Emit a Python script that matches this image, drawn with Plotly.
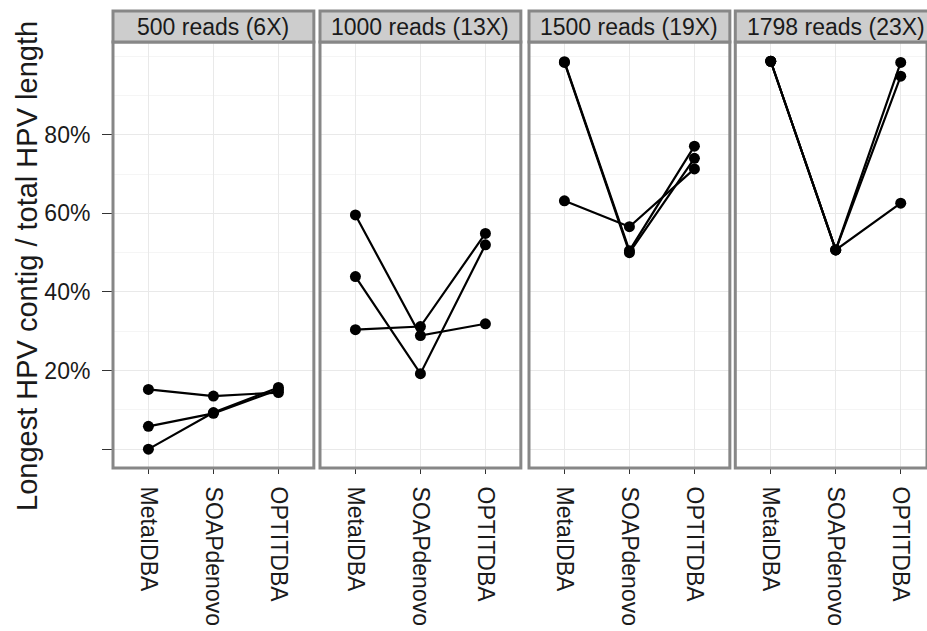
import plotly.graph_objects as go

# Assemblers compared on the x axis of every panel
methods = ["MetaIDBA", "SOAPdenovo", "OPTITDBA"]

# One panel per read depth
panel_titles = ["500 reads (6X)", "1000 reads (13X)", "1500 reads (19X)", "1798 reads (23X)"]

# Longest HPV contig as % of total HPV length, three replicate runs per depth
# (each inner list: MetaIDBA, SOAPdenovo, OPTITDBA)
runs_500 = [[15.2, 13.5, 14.4], [5.8, 9.1, 15.1], [0.0, 9.3, 15.7]]
runs_1000 = [[59.6, 28.9, 31.9], [43.9, 19.2, 52.0], [30.4, 31.2, 54.9]]
runs_1500 = [[98.6, 50.5, 77.1], [98.4, 50.0, 74.0], [63.2, 56.6, 71.3]]
runs_1798 = [[98.7, 50.7, 98.4], [98.7, 50.7, 94.9], [98.7, 50.7, 62.6]]
panel_runs = [runs_500, runs_1000, runs_1500, runs_1798]

# y axis ticks
y_tickvals = [0, 20, 40, 60, 80]
y_ticktext = ["", "20%", "40%", "60%", "80%"]
y_minor = [10, 30, 50, 70, 90, 100]

W, H = 927, 631
FONT = "Liberation Sans, Arial, sans-serif"
BORDER = "#878787"
STRIP_FILL = "#cdcdcd"
GRID = "#e9e9e9"
GRID_MINOR = "#f5f5f5"

# panel placement in pixels: left border, category spacing
panel_left = [113.0, 320.0, 529.0, 735.3]
cat_step = 65.0
cat_pad = 0.545
panel_top, panel_bottom = 42.0, 468.0
strip_top = 11.0
y_range = [-4.8, 103.6]

fig = go.Figure()

for i, runs in enumerate(panel_runs):
    ax = "" if i == 0 else str(i + 1)
    for vals in runs:
        fig.add_trace(go.Scatter(
            x=methods, y=vals, mode="lines+markers",
            xaxis="x" + ax, yaxis="y" + ax,
            line=dict(color="black", width=2.2),
            marker=dict(color="black", size=11),
            showlegend=False, hoverinfo="skip",
        ))

    left = panel_left[i]
    right = min(left + (2 + 2 * cat_pad) * cat_step, W)
    x_hi = -cat_pad + (right - left) / cat_step
    fig.layout["xaxis" + ax] = dict(
        domain=[left / W, right / W], anchor="y" + ax,
        type="category", categoryorder="array", categoryarray=methods,
        range=[-cat_pad, x_hi],
        showgrid=True, gridcolor=GRID, gridwidth=1.3,
        zeroline=False, showline=False,
        ticks="outside", ticklen=5, tickwidth=1.3, tickcolor="#333333",
        tickangle=90, ticklabelstandoff=8,
        tickfont=dict(family=FONT, size=23, color="#1a1a1a"),
    )
    fig.layout["yaxis" + ax] = dict(
        domain=[1 - panel_bottom / H, 1 - panel_top / H], anchor="x" + ax,
        range=y_range, tickvals=y_tickvals, ticktext=y_ticktext,
        showgrid=True, gridcolor=GRID, gridwidth=1.3,
        minor=dict(tickvals=y_minor, showgrid=True, gridcolor=GRID_MINOR,
                   gridwidth=1, ticks=""),
        zeroline=False, showline=False,
        ticks="outside" if i == 0 else "", ticklen=10, tickwidth=1.3,
        tickcolor="#333333", showticklabels=(i == 0), ticklabelstandoff=7,
        tickfont=dict(family=FONT, size=23, color="#1a1a1a"),
    )

    # panel frame
    fig.add_shape(type="rect", xref="x" + ax + " domain", yref="y" + ax + " domain",
                  x0=0, x1=1, y0=0, y1=1, layer="above",
                  line=dict(color=BORDER, width=3), fillcolor="rgba(0,0,0,0)")
    # strip header
    fig.add_shape(type="rect", xref="x" + ax + " domain", yref="paper",
                  x0=0, x1=(left + (2 + 2 * cat_pad) * cat_step - left) / (right - left),
                  y0=1 - panel_top / H, y1=1 - strip_top / H,
                  line=dict(color=BORDER, width=3), fillcolor=STRIP_FILL)
    fig.add_annotation(xref="paper", yref="paper",
                       x=(left + (1 + cat_pad) * cat_step) / W,
                       y=1 - (panel_top + strip_top) / 2 / H,
                       text=panel_titles[i], showarrow=False,
                       xanchor="center", yanchor="middle",
                       font=dict(family=FONT, size=23, color="#1a1a1a"))

# shared y axis title
fig.add_annotation(xref="paper", yref="paper", x=27 / W, y=1 - 266 / H,
                   text="Longest HPV contig / total HPV length", textangle=-90,
                   showarrow=False, xanchor="center", yanchor="middle",
                   font=dict(family=FONT, size=29, color="#1a1a1a"))

fig.update_layout(
    width=W, height=H,
    margin=dict(l=0, r=0, t=0, b=0),
    paper_bgcolor="white", plot_bgcolor="white",
)

fig.write_html("out.html")
